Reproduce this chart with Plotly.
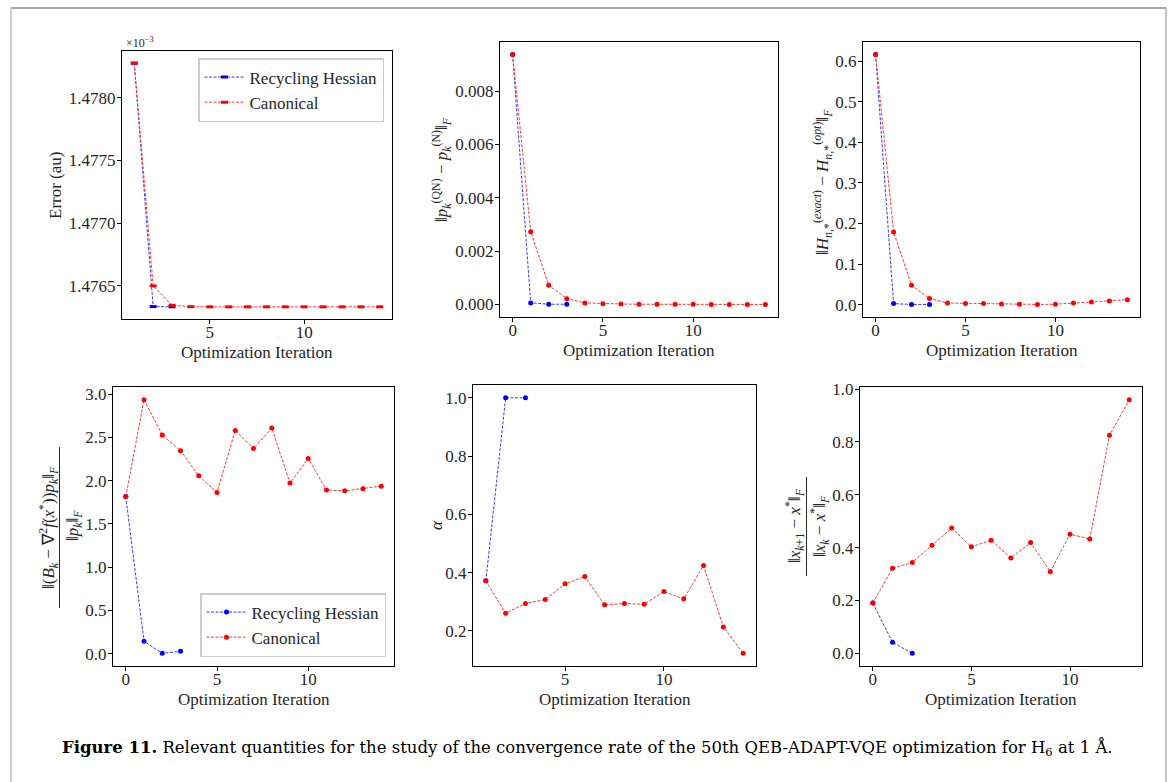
import plotly.graph_objects as go
from plotly.subplots import make_subplots

W, H = 1170, 782

# ---------------- data ----------------
# Panel 1: Error (au), values in units of 1e-3, iterations start at 1
err_iter_rh = [1, 2, 3]
err_rh = [1.478275, 1.476335, 1.476333]
err_iter_can = list(range(1, 15))
err_can = [1.478275, 1.476500, 1.476345, 1.476334, 1.476333, 1.476333, 1.476333,
           1.476333, 1.476333, 1.476333, 1.476333, 1.476333, 1.476333, 1.476333]

# Panel 2: ||p_k^(QN) - p_k^(N)||_F
pn_iter_rh = [0, 1, 2, 3]
pn_rh = [0.00937, 0.00006, 0.00001, 0.00001]
pn_iter_can = list(range(0, 15))
pn_can = [0.00937, 0.00273, 0.00072, 0.00022, 0.00006, 0.00003, 0.00002, 0.00001,
          0.00001, 0.00001, 0.00001, 0.00000, 0.00000, 0.00000, 0.00000]

# Panel 3: ||H^(exact) - H^(opt)||_F
h_iter_rh = [0, 1, 2, 3]
h_rh = [0.616, 0.0025, 0.0005, 0.0003]
h_iter_can = list(range(0, 15))
h_can = [0.616, 0.179, 0.0476, 0.0148, 0.004, 0.003, 0.0025, 0.0015, 0.001,
         0.0005, 0.001, 0.004, 0.0064, 0.0089, 0.0123]

# Panel 4: ||(B_k - grad^2 f(x*)) p_k||_F / ||p_k||_F
b_iter_rh = [0, 1, 2, 3]
b_rh = [1.816, 0.143, 0.004, 0.027]
b_iter_can = list(range(0, 15))
b_can = [1.816, 2.935, 2.526, 2.345, 2.056, 1.863, 2.580, 2.372, 2.607, 1.971,
         2.256, 1.890, 1.882, 1.905, 1.936]

# Panel 5: alpha, iterations start at 1
a_iter_rh = [1, 2, 3]
a_rh = [0.3717, 1.0, 1.0]
a_iter_can = list(range(1, 15))
a_can = [0.3717, 0.2607, 0.2938, 0.3076, 0.3614, 0.3866, 0.2893, 0.2938, 0.2916,
         0.3350, 0.3099, 0.4243, 0.2137, 0.1233]

# Panel 6: ||x_{k+1} - x*||_F / ||x_k - x*||_F
r_iter_rh = [0, 1, 2]
r_rh = [0.190, 0.0416, 0.0]
r_iter_can = list(range(0, 14))
r_can = [0.190, 0.322, 0.344, 0.409, 0.474, 0.403, 0.428, 0.361, 0.419, 0.309,
         0.451, 0.433, 0.825, 0.960]

series_names = ["Recycling Hessian", "Canonical"]
x_ticks = [0, 5, 10]

# ---------------- styling ----------------
FONT = "Liberation Serif"
CAP_FONT = "DejaVu Serif"
TXT = "#262626"
BLUE = "#0000ff"
RED = "#ff0000"
BLUE_LINE = "#3a3aff"
RED_LINE = "#ff3a3a"

fig = make_subplots(rows=2, cols=3)

panels = [
    (1, 1, err_iter_rh, err_rh, err_iter_can, err_can, "legend"),
    (1, 2, pn_iter_rh, pn_rh, pn_iter_can, pn_can, None),
    (1, 3, h_iter_rh, h_rh, h_iter_can, h_can, None),
    (2, 1, b_iter_rh, b_rh, b_iter_can, b_can, "legend2"),
    (2, 2, a_iter_rh, a_rh, a_iter_can, a_can, None),
    (2, 3, r_iter_rh, r_rh, r_iter_can, r_can, None),
]

for (row, col, xr, yr, xc, yc, leg) in panels:
    if row == 1 and col == 1:
        mk_rh = dict(symbol="line-ew", size=5, color=BLUE, line=dict(width=3, color=BLUE))
        mk_can = dict(symbol="line-ew", size=5, color=RED, line=dict(width=3, color=RED))
    else:
        mk_rh = dict(symbol="circle", size=5, color=BLUE)
        mk_can = dict(symbol="circle", size=5, color=RED)
    for xs, ys, name, lcolor, mk in [(xr, yr, series_names[0], BLUE_LINE, mk_rh),
                                      (xc, yc, series_names[1], RED_LINE, mk_can)]:
        tr = go.Scatter(x=xs, y=ys, mode="lines+markers", name=name,
                        line=dict(color=lcolor, width=1, dash="3px,1.5px"),
                        marker=mk, showlegend=leg is not None)
        if leg is not None:
            tr.update(legend=leg)
        fig.add_trace(tr, row=row, col=col)


def pad_range(vals, frac=0.05):
    lo, hi = min(vals), max(vals)
    m = (hi - lo) * frac
    return [lo - m, hi + m]


# pixel boxes of the six axes: (left, right, top, bottom)
boxes = {
    (1, 1): (122, 392, 51, 319),
    (1, 2): (500, 778, 42, 317),
    (1, 3): (863, 1140, 42, 317),
    (2, 1): (113, 394, 387, 666),
    (2, 2): (473, 756, 385, 666),
    (2, 3): (860, 1142, 387, 666),
}

ydefs = {
    (1, 1): dict(tickvals=[1.4765, 1.4770, 1.4775, 1.4780], tickformat=".4f",
                 rng=pad_range(err_rh + err_can), xr=pad_range(err_iter_rh + err_iter_can)),
    (1, 2): dict(tickvals=[0, 0.002, 0.004, 0.006, 0.008], tickformat=".3f",
                 rng=pad_range(pn_rh + pn_can), xr=pad_range(pn_iter_rh + pn_iter_can)),
    (1, 3): dict(tickvals=[0, 0.1, 0.2, 0.3, 0.4, 0.5, 0.6], tickformat=".1f",
                 rng=pad_range(h_rh + h_can), xr=pad_range(h_iter_rh + h_iter_can)),
    (2, 1): dict(tickvals=[0, 0.5, 1.0, 1.5, 2.0, 2.5, 3.0], tickformat=".1f",
                 rng=pad_range(b_rh + b_can), xr=pad_range(b_iter_rh + b_iter_can)),
    (2, 2): dict(tickvals=[0.2, 0.4, 0.6, 0.8, 1.0], tickformat=".1f",
                 rng=pad_range(a_rh + a_can), xr=pad_range(a_iter_rh + a_iter_can)),
    (2, 3): dict(tickvals=[0, 0.2, 0.4, 0.6, 0.8, 1.0], tickformat=".1f",
                 rng=pad_range(r_rh + r_can), xr=pad_range(r_iter_rh + r_iter_can)),
}

axis_common = dict(showline=True, linecolor="black", linewidth=1.2, mirror=True,
                   ticks="outside", ticklen=4, tickwidth=1, tickcolor="black",
                   showgrid=False, zeroline=False, automargin=False,
                   tickfont=dict(family=FONT, size=17, color=TXT))

for (row, col), (l, r, t, b) in boxes.items():
    d = ydefs[(row, col)]
    fig.update_xaxes(domain=[l / W, r / W], range=d["xr"], tickvals=x_ticks,
                     ticktext=[str(v) for v in x_ticks], ticklabelstandoff=-7,
                     row=row, col=col, **axis_common)
    fig.update_yaxes(domain=[1 - b / H, 1 - t / H], range=d["rng"],
                     tickvals=d["tickvals"], tickformat=d["tickformat"],
                     ticklabelstandoff=-2, row=row, col=col, **axis_common)

annotations = []


def ann(x, y, text, size=17, angle=0, color=TXT, xanchor="center", yanchor="middle",
        family=FONT):
    annotations.append(dict(x=x / W, y=1 - y / H, xref="paper", yref="paper", text=text,
                            showarrow=False, textangle=angle, xanchor=xanchor,
                            yanchor=yanchor, font=dict(family=family, size=size, color=color)))


# x-axis titles
for (row, col), (l, r, t, b) in boxes.items():
    ann((l + r) / 2, b + 33, "Optimization Iteration", size=17)

# y-axis titles
ann(55, 185, "Error (au)", angle=-90)
ann(442, 170, "‖<i>p</i><sub><i>k</i></sub><sup>(QN)</sup> − <i>p</i><sub><i>k</i></sub>"
              "<sup>(N)</sup>‖<sub><i>F</i></sub>", angle=-90)
ann(822, 182, "‖<i>H</i><sub><i>n</i>,*</sub><sup>(<i>exact</i>)</sup> − <i>H</i>"
              "<sub><i>n</i>,*</sub><sup>(<i>opt</i>)</sup>‖<sub><i>F</i></sub>", angle=-90)
ann(48, 528, "‖(<i>B</i><sub><i>k</i></sub> − ∇<sup>2</sup><i>f</i>(<i>x</i><sup>*</sup>))"
             "<i>p</i><sub><i>k</i></sub>‖<sub><i>F</i></sub>", angle=-90)
ann(74, 526, "‖<i>p</i><sub><i>k</i></sub>‖<sub><i>F</i></sub>", angle=-90)
ann(436, 525, "<i>α</i>", angle=-90)
ann(794, 526, "‖<i>x</i><sub><i>k</i>+1</sub> − <i>x</i><sup>*</sup>‖<sub><i>F</i></sub>", angle=-90)
ann(819, 526, "‖<i>x</i><sub><i>k</i></sub> − <i>x</i><sup>*</sup>‖<sub><i>F</i></sub>", angle=-90)

# offset text for panel 1
ann(124, 42, "×10<sup>−3</sup>", size=12, xanchor="left")

# caption
ann(587, 748, "<b>Figure 11.</b> Relevant quantities for the study of the convergence rate "
              "of the 50th QEB-ADAPT-VQE optimization for H<sub>6</sub> at 1 Å.",
    size=16.5, color="black", family=CAP_FONT)

shapes = [
    # fraction bars
    dict(type="line", xref="paper", yref="paper", x0=59.5 / W, x1=59.5 / W,
         y0=1 - 447 / H, y1=1 - 608 / H, line=dict(color=TXT, width=1)),
    dict(type="line", xref="paper", yref="paper", x0=806.5 / W, x1=806.5 / W,
         y0=1 - 477 / H, y1=1 - 576 / H, line=dict(color=TXT, width=1)),
    # page frame
    dict(type="line", xref="paper", yref="paper", x0=11 / W, x1=1166 / W,
         y0=1 - 8 / H, y1=1 - 8 / H, line=dict(color="#a6a6a6", width=2)),
    dict(type="line", xref="paper", yref="paper", x0=11 / W, x1=11 / W,
         y0=1 - 8 / H, y1=-0.01, line=dict(color="#cccccc", width=2)),
    dict(type="line", xref="paper", yref="paper", x0=1166 / W, x1=1166 / W,
         y0=1 - 8 / H, y1=-0.01, line=dict(color="#c4c4c4", width=2)),
]

legend_style = dict(bgcolor="white", bordercolor="#cccccc", borderwidth=1.5,
                    font=dict(family=FONT, size=17, color=TXT), itemwidth=40,
                    tracegroupgap=0)

fig.update_layout(
    template="none",
    font=dict(family=FONT, size=17, color=TXT),
    width=W, height=H, margin=dict(l=0, r=0, t=0, b=0, pad=0, autoexpand=False),
    paper_bgcolor="white", plot_bgcolor="white",
    annotations=annotations, shapes=shapes,
    legend=dict(x=384 / W, y=1 - 58 / H, xanchor="right", yanchor="top", **legend_style),
    legend2=dict(x=386 / W, y=1 - 657 / H, xanchor="right", yanchor="bottom", **legend_style),
)

fig.write_html("out.html")
